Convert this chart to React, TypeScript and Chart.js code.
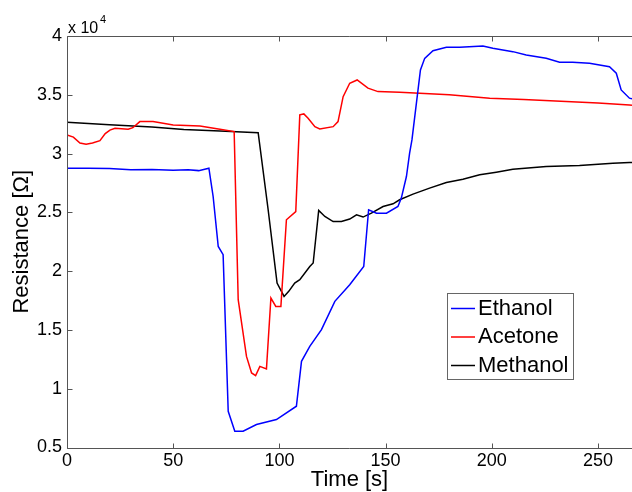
import React, { useEffect, useRef } from "react";
import { Chart, registerables } from "chart.js";

Chart.register(...registerables);

const FONT = "'Liberation Sans', Arial, sans-serif";

// Time axis ticks and resistance axis ticks (Ω)
const xTickStep = 50;
const yTickStep = 5000;

// Ethanol (blue)
const ethanolTime = [0, 10, 20, 30, 40, 50, 57, 62, 66.8, 68.8, 71.2, 73.5, 75.9, 79.0, 82.9, 89.2, 98.6, 108.0, 110.4, 114.3, 119.8, 126.1, 133.1, 139.7, 142.0, 145.7, 150.4, 155.8, 157.4, 159.8, 161.3, 162.4, 166.4, 168.4, 172.3, 178.6, 184.9, 195.8, 200.5, 209.9, 216.2, 225.6, 231.9, 238.1, 246.0, 255.4, 258.6, 260.9, 264.8, 266];
const ethanolR = [28750, 28750, 28720, 28620, 28640, 28580, 28620, 28550, 28760, 26350, 22100, 21400, 8080, 6380, 6380, 6950, 7380, 8510, 12330, 13600, 15020, 17430, 18840, 20400, 25220, 24930, 24930, 25500, 26210, 28050, 30030, 31160, 37110, 38100, 38750, 39040, 39040, 39150, 38950, 38670, 38390, 38100, 37770, 37770, 37680, 37390, 36830, 35410, 34710, 34650];

// Acetone (red)
const acetoneTime = [0, 3, 6.1, 9, 12, 15.5, 18, 20.2, 22.6, 28.8, 31, 34.3, 40.5, 50, 62.6, 72, 78.7, 80.6, 84.5, 86.9, 88.8, 90.8, 93.9, 96, 98.3, 100.7, 103.3, 107.7, 109.6, 111.5, 113.5, 116.7, 119, 125.3, 127.6, 130, 133.1, 136.6, 141.7, 146.4, 156.6, 166, 180, 199, 215, 235, 250, 264.8, 266];
const acetoneR = [31590, 31400, 30900, 30800, 30900, 31100, 31700, 32000, 32150, 32070, 32200, 32720, 32720, 32440, 32350, 32070, 31870, 17570, 12750, 11340, 11110, 11900, 11680, 17710, 17000, 17000, 24370, 25070, 33290, 33370, 33000, 32290, 32100, 32290, 32720, 34840, 35980, 36260, 35560, 35270, 35220, 35130, 35000, 34710, 34600, 34420, 34300, 34140, 34120];

// Methanol (black)
const methanolTime = [0, 20, 40, 55, 72, 90, 94.7, 98.9, 102.2, 104.4, 107.2, 109.6, 114.3, 115.9, 118.5, 121.4, 125.3, 129.2, 133.1, 136.3, 139.4, 143.3, 148.8, 153.5, 156.6, 162.9, 170.7, 178.6, 186.4, 194.3, 202.1, 209.9, 225.6, 241.3, 257, 264.8, 266];
const methanolR = [32670, 32450, 32250, 32050, 31930, 31780, 25220, 18990, 17850, 18280, 18990, 19270, 20400, 20690, 25160, 24650, 24220, 24220, 24430, 24790, 24600, 24930, 25500, 25730, 26070, 26550, 27060, 27540, 27820, 28190, 28420, 28670, 28900, 28980, 29180, 29240, 29250];

const seriesNames = ["Ethanol", "Acetone", "Methanol"];
const seriesColors = ["#0000ff", "#ff0000", "#000000"];

function toPoints(t: number[], r: number[]) {
  return t.map((v, i) => ({ x: v, y: r[i] }));
}

const framePlugin = {
  id: "matlabFrame",
  afterDraw(chart: any) {
    const { ctx, chartArea, scales } = chart;
    const { left, right, top, bottom } = chartArea;
    const xs = scales.x;
    const ys = scales.y;
    ctx.save();
    ctx.strokeStyle = "#555555";
    ctx.lineWidth = 1;
    ctx.beginPath();
    const L = Math.round(left) + 0.5;
    const B = Math.round(bottom) + 0.5;
    const T = Math.round(top) + 0.5;
    ctx.moveTo(L, T);
    ctx.lineTo(L, B);
    ctx.moveTo(L, B);
    ctx.lineTo(right, B);
    ctx.moveTo(L, T);
    ctx.lineTo(right, T);
    xs.ticks.forEach((t: any) => {
      const px = Math.round(xs.getPixelForValue(t.value)) + 0.5;
      ctx.moveTo(px, B);
      ctx.lineTo(px, B - 5);
      ctx.moveTo(px, T);
      ctx.lineTo(px, T + 5);
    });
    ys.ticks.forEach((t: any) => {
      const py = Math.round(ys.getPixelForValue(t.value)) + 0.5;
      ctx.moveTo(L, py);
      ctx.lineTo(L + 5, py);
    });
    ctx.stroke();

    // exponent label
    ctx.fillStyle = "#000";
    ctx.textBaseline = "alphabetic";
    ctx.textAlign = "left";
    ctx.font = `16px ${FONT}`;
    ctx.fillText("x 10", 68, 33);
    ctx.font = `11px ${FONT}`;
    ctx.fillText("4", 100, 23);

    // legend
    const bx = 447.5, by = 293.5, bw = 126, bh = 86;
    ctx.fillStyle = "#fff";
    ctx.fillRect(bx, by, bw, bh);
    ctx.strokeStyle = "#666";
    ctx.lineWidth = 1;
    ctx.strokeRect(bx, by, bw, bh);
    ctx.font = `22px ${FONT}`;
    ctx.textBaseline = "middle";
    const rows = [308.5, 337, 365.5];
    seriesNames.forEach((name, i) => {
      ctx.strokeStyle = seriesColors[i];
      ctx.lineWidth = 1.5;
      ctx.beginPath();
      ctx.moveTo(451, rows[i]);
      ctx.lineTo(475, rows[i]);
      ctx.stroke();
      ctx.fillStyle = "#000";
      ctx.fillText(name, 478, rows[i]);
    });
    ctx.restore();
  },
};

export default function App() {
  const ref = useRef<HTMLCanvasElement | null>(null);

  useEffect(() => {
    if (!ref.current) return;
    const chart = new Chart(ref.current, {
      type: "line",
      data: {
        datasets: [
          { label: seriesNames[0], data: toPoints(ethanolTime, ethanolR), borderColor: seriesColors[0], borderWidth: 1.5, pointRadius: 0, tension: 0, fill: false },
          { label: seriesNames[1], data: toPoints(acetoneTime, acetoneR), borderColor: seriesColors[1], borderWidth: 1.5, pointRadius: 0, tension: 0, fill: false },
          { label: seriesNames[2], data: toPoints(methanolTime, methanolR), borderColor: seriesColors[2], borderWidth: 1.5, pointRadius: 0, tension: 0, fill: false },
        ],
      },
      options: {
        animation: false,
        responsive: false,
        maintainAspectRatio: false,
        events: [],
        layout: { padding: { top: 36, right: 0, left: 0, bottom: 0 } },
        plugins: { legend: { display: false }, tooltip: { enabled: false } },
        scales: {
          x: {
            type: "linear",
            min: 0,
            max: 266,
            afterFit: (s: any) => { s.height = 44.5; },
            grid: { display: false, drawTicks: false },
            border: { display: false },
            ticks: { stepSize: xTickStep, includeBounds: false, padding: 3, color: "#000", maxRotation: 0, autoSkip: false, font: { family: FONT, size: 18 } },
            title: { display: true, text: "Time [s]", color: "#000", font: { family: FONT, size: 22, lineHeight: 1 }, padding: { top: 0, bottom: 1 } },
          },
          y: {
            type: "linear",
            min: 5000,
            max: 40000,
            afterFit: (s: any) => { s.width = 67; },
            grid: { display: false, drawTicks: false },
            border: { display: false },
            ticks: { stepSize: yTickStep, padding: 5, color: "#000", font: { family: FONT, size: 18 }, callback: (v: any) => String(Number(v) / 10000) },
            title: { display: true, text: "Resistance [Ω]", color: "#000", font: { family: FONT, size: 22, lineHeight: 1 }, padding: { top: 11, bottom: 0 } },
          },
        },
      } as any,
      plugins: [framePlugin],
    });
    return () => chart.destroy();
  }, []);

  return (
    <div style={{ position: "absolute", left: 0, top: 0, width: 632, height: 492, background: "#fff" }}>
      <canvas ref={ref} width={632} height={492} style={{ display: "block" }} />
    </div>
  );
}
